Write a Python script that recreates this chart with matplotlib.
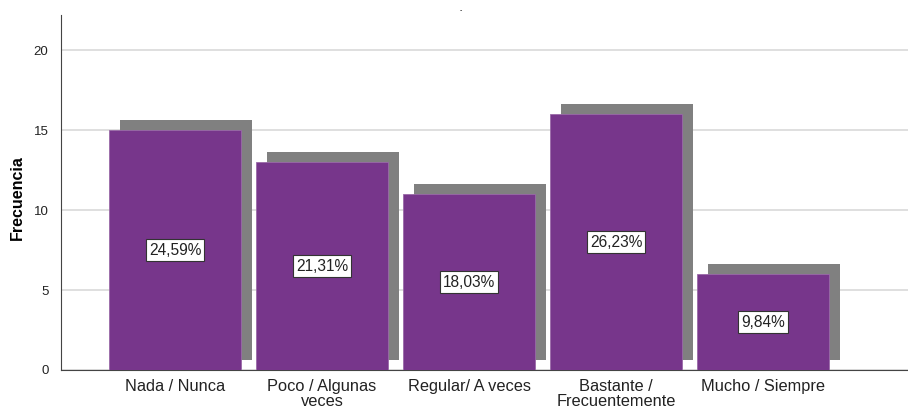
import numpy as np
import matplotlib
matplotlib.use('Agg')
import matplotlib.pyplot as plt

plt.rcParams['font.family'] = ['Liberation Sans', 'DejaVu Sans']

categorias = ['Nada / Nunca', 'Poco / Algunas\nveces', 'Regular/ A veces',
              'Bastante /\nFrecuentemente', 'Mucho / Siempre']
frecuencia = [15, 13, 11, 16, 6]
porcentajes = ['24,59%', '21,31%', '18,03%', '26,23%', '9,84%']

purple = '#77368b'
shadow = '#808080'

fig = plt.figure(figsize=(9.08, 4.09), dpi=100)
ax = fig.add_axes([0.0672, 0.0954, 0.9328, 0.8679])

x = np.arange(len(categorias))
w = 0.898
dx = 0.075   # shadow offset right
dy = 0.625   # shadow offset up

# shadow bars first, then the purple ones on top
ax.bar(x + dx, frecuencia, width=w, bottom=dy, color=shadow, zorder=2)
ax.bar(x, frecuencia, width=w, color=purple, edgecolor='#9a6aa8', linewidth=0.6, zorder=3)

for xi, f, p in zip(x, frecuencia, porcentajes):
    ax.text(xi, f / 2, p, ha='center', va='center', fontsize=11.2, color='#222222', zorder=4,
            bbox=dict(boxstyle='square,pad=0.2', facecolor='white', edgecolor='#333333', linewidth=0.8))

ax.set_xlim(-0.776, 4.986)
ax.set_ylim(0, 22.2)
ax.set_yticks([0, 5, 10, 15, 20])
ax.set_xticks(x)
ax.set_xticklabels(categorias, fontsize=11.8, color='#222222', linespacing=1.0)
ax.tick_params(axis='both', length=0)
ax.tick_params(axis='y', labelsize=9.5, pad=9, labelcolor='#222222')
ax.tick_params(axis='x', pad=6.5)
ax.yaxis.grid(True, color='#d9d9d9', linewidth=1.2, zorder=0)
ax.set_axisbelow(True)

for s in ['top', 'right']:
    ax.spines[s].set_visible(False)
ax.spines['left'].set_color('#444444')
ax.spines['bottom'].set_color('#444444')
ax.spines['left'].set_linewidth(0.8)
ax.spines['bottom'].set_linewidth(0.8)

ax.set_ylabel('Frecuencia', fontsize=11.5, fontweight='bold')
ax.yaxis.set_label_coords(-0.0425, 0.485)
fig.text(0.508, 0.975, '-', fontsize=5, ha='center', va='center')

fig.savefig('out.png', dpi=100)
